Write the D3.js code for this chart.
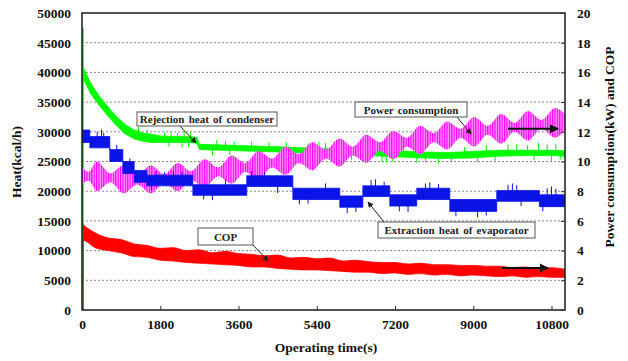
<!DOCTYPE html>
<html>
<head>
<meta charset="utf-8">
<script src="https://cdnjs.cloudflare.com/ajax/libs/d3/7.8.5/d3.min.js"></script>
<style>
  body { margin: 0; background: #fff; }
  text { font-family: "Liberation Serif", "Times New Roman", serif; font-weight: bold; }
</style>
</head>
<body>
<svg id="chart" width="628" height="361"></svg>
<script>
// ---- data ----
const xTicks = [0, 1800, 3600, 5400, 7200, 9000, 10800];
const heatTicks = [0, 5000, 10000, 15000, 20000, 25000, 30000, 35000, 40000, 45000, 50000];
const rightTicks = [0, 2, 4, 6, 8, 10, 12, 14, 16, 18, 20];

// Rejection heat of condenser (kcal/h), band edges
const greenT  = [0, 20, 200, 400, 600, 800, 1000, 1200, 1400, 1600, 1800, 2100, 2400, 2640, 2700, 3600, 4500, 4800, 5400, 6000, 6600, 7200, 7800, 8400, 9000, 9600, 10200, 10800, 11110];
const greenHi = [47500, 41000, 38200, 36000, 34200, 32500, 31200, 30300, 29800, 29600, 29300, 29200, 29200, 29100, 27900, 27700, 27500, 27400, 27200, 27100, 26900, 26800, 26600, 26500, 26700, 26900, 26900, 26900, 26800];
const greenLo = [0, 39000, 36400, 34400, 32600, 31000, 29600, 28800, 28400, 28200, 28200, 28200, 28200, 28100, 27000, 26800, 26600, 26500, 26300, 26100, 26000, 25800, 25600, 25500, 25600, 25900, 26000, 26000, 25900];
const greenSpikeT = [1300, 1500, 1900, 2000, 2050, 2200, 2300, 2350, 2450, 2500, 3000, 3100, 3300, 3400, 3500, 3900, 4100, 4300, 4700, 5200, 5450, 5600, 5800, 6000, 6200, 6500, 6900, 7000, 7150, 7400, 7700, 7900, 8200, 8500, 8800, 9100, 9300, 9500, 9800, 10000, 10250, 10400, 10500, 10700, 10800, 10900, 11000];
const greenSpikeV = [30800, 30400, 29900, 27500, 30000, 29800, 27300, 30100, 27400, 29900, 26000, 28600, 28500, 26100, 28400, 28300, 25900, 28200, 28200, 28000, 28300, 28100, 28400, 27900, 25300, 27900, 25000, 24800, 24900, 27600, 24800, 24900, 24700, 25000, 27400, 24900, 27800, 25100, 27900, 28000, 27800, 25200, 28100, 27900, 25100, 28000, 25300];

// Extraction heat of evaporator (kcal/h), stepped band
const blueT  = [0, 180, 640, 940, 1200, 1490, 2550, 3790, 4850, 5930, 6460, 7080, 7700, 8460, 9540, 10520, 11110];
const blueHi = [30300, 29200, 27000, 25000, 23500, 22700, 21100, 22600, 20500, 19200, 20900, 19400, 20500, 18600, 20100, 19400, 19400];
const blueLo = [28200, 27300, 25000, 23000, 21500, 20900, 19300, 20800, 18600, 17300, 19100, 17500, 18600, 16600, 18300, 17400, 17400];
const blueSpikeT = [350, 450, 500, 800, 1100, 1600, 1700, 1900, 2100, 2300, 2800, 3000, 3300, 3900, 4200, 4500, 5000, 5200, 5600, 6100, 6300, 6650, 6750, 6950, 7300, 7500, 7900, 8000, 8200, 8600, 9100, 9300, 9800, 9900, 10000, 10100, 10600, 10700, 10800, 10900];
const blueSpikeV = [30000, 30400, 29800, 27800, 25500, 20200, 23400, 23200, 23500, 23300, 18600, 18500, 22000, 23400, 23200, 19700, 17800, 17900, 21300, 16300, 16500, 21900, 22000, 21600, 16600, 16500, 21300, 21500, 21200, 15800, 15600, 15900, 21100, 21300, 21000, 17500, 16600, 20500, 20800, 20400];

// Power consumption (kW), beating envelope
const pinkT  = [0, 150, 340, 650, 960, 1270, 1580, 1890, 2200, 2510, 2820, 3130, 3440, 3750, 4060, 4370, 4680, 4990, 5300, 5610, 5920, 6230, 6540, 6850, 7160, 7470, 7780, 8090, 8400, 8710, 9020, 9330, 9640, 9950, 10260, 10570, 10880, 11110];
const pinkHi = [9.6, 9.3, 10.0, 9.2, 9.75, 9.05, 9.75, 9.15, 9.9, 9.35, 10.15, 9.6, 10.4, 9.9, 10.7, 10.2, 11.0, 10.5, 11.3, 10.8, 11.55, 11.0, 11.8, 11.3, 12.05, 11.6, 12.4, 11.9, 12.7, 12.2, 13.0, 12.4, 13.2, 12.6, 13.4, 12.8, 13.6, 13.2];
const pinkLo = [8.5, 8.7, 8.0, 8.6, 7.85, 8.45, 7.85, 8.55, 8.0, 8.75, 8.25, 9.0, 8.5, 9.3, 8.8, 9.6, 9.1, 9.9, 9.4, 10.2, 9.65, 10.4, 9.9, 10.7, 10.15, 11.0, 10.5, 11.3, 10.8, 11.6, 11.0, 11.8, 11.2, 12.0, 11.4, 12.2, 11.6, 12.1];

// COP, band edges
const redT  = [0, 20, 300, 600, 900, 1200, 1500, 1800, 2100, 2400, 2700, 3000, 3300, 3600, 3900, 4200, 4500, 4800, 5100, 5400, 5700, 6000, 6300, 6600, 6900, 7200, 7500, 7800, 8100, 8400, 8700, 9000, 9300, 9600, 9900, 10200, 10500, 10800, 11110];
const redHi = [5.8, 5.75, 5.2, 4.85, 4.75, 4.45, 4.35, 4.15, 4.2, 4.0, 4.05, 3.85, 3.95, 3.8, 3.75, 3.65, 3.7, 3.5, 3.55, 3.45, 3.5, 3.3, 3.35, 3.25, 3.2, 3.2, 3.1, 3.15, 3.05, 3.05, 3.0, 3.0, 2.95, 2.95, 2.85, 2.9, 2.8, 2.85, 2.75];
const redLo = [0, 4.7, 4.2, 4.0, 3.85, 3.6, 3.55, 3.35, 3.3, 3.2, 3.15, 3.1, 3.05, 3.0, 2.9, 2.9, 2.8, 2.75, 2.7, 2.7, 2.65, 2.6, 2.55, 2.55, 2.45, 2.5, 2.4, 2.45, 2.35, 2.4, 2.3, 2.35, 2.3, 2.25, 2.3, 2.2, 2.25, 2.2, 2.2];

// ---- layout ----
const plot = { left: 82, top: 13, right: 565, bottom: 310 };
const svg = d3.select('#chart');

const x = d3.scaleLinear().domain([0, 11110]).range([plot.left, plot.right]);
const yL = d3.scaleLinear().domain([0, 50000]).range([plot.bottom, plot.top]);
const yR = d3.scaleLinear().domain([0, 20]).range([plot.bottom, plot.top]);

const defs = svg.append('defs');
const hatch = defs.append('pattern').attr('id', 'pinkHatch')
  .attr('patternUnits', 'userSpaceOnUse').attr('width', 2.4).attr('height', 4);
hatch.append('rect').attr('width', 2.4).attr('height', 4).attr('fill', '#ff9cff');
hatch.append('rect').attr('width', 1.2).attr('height', 4).attr('fill', '#ff00ff');

defs.append('marker').attr('id', 'thinHead')
  .attr('viewBox', '0 0 8 8').attr('refX', 7).attr('refY', 4)
  .attr('markerWidth', 6).attr('markerHeight', 6).attr('orient', 'auto')
  .attr('markerUnits', 'userSpaceOnUse')
  .append('path').attr('d', 'M0,0L8,4L0,8z').attr('fill', '#222');
defs.append('marker').attr('id', 'boldHead')
  .attr('viewBox', '0 0 10 10').attr('refX', 9).attr('refY', 5)
  .attr('markerWidth', 10).attr('markerHeight', 9).attr('orient', 'auto')
  .attr('markerUnits', 'userSpaceOnUse')
  .append('path').attr('d', 'M0,0L10,5L0,10z').attr('fill', '#111');

// grid lines
svg.append('g').selectAll('line').data(heatTicks.slice(1, -1)).enter().append('line')
  .attr('x1', plot.left).attr('x2', plot.right)
  .attr('y1', d => yL(d)).attr('y2', d => yL(d))
  .attr('stroke', '#8a8a8a').attr('stroke-width', 1).attr('stroke-dasharray', '2,2');

// series
defs.append('clipPath').attr('id', 'plotClip').append('rect')
  .attr('x', plot.left).attr('y', plot.top)
  .attr('width', plot.right - plot.left).attr('height', plot.bottom - plot.top);
const marks = svg.append('g').attr('clip-path', 'url(#plotClip)');

function band(ts, hi, lo) {
  return ts.map((t, i) => ({ t, hi: hi[i], lo: lo[i] }));
}
function centerAt(ts, hi, lo, t, stepped) {
  let i = d3.bisectRight(ts, t) - 1;
  i = Math.max(0, Math.min(ts.length - 1, i));
  if (stepped || i === ts.length - 1) return (hi[i] + lo[i]) / 2;
  const f = (t - ts[i]) / (ts[i + 1] - ts[i]);
  return ((hi[i] + lo[i]) / 2) * (1 - f) + ((hi[i + 1] + lo[i + 1]) / 2) * f;
}

// start-up jumps at t = 0 (drawn from the first band edges)
marks.append('line').attr('x1', x(0) + 1).attr('x2', x(0) + 1)
  .attr('y1', yL(greenLo[0])).attr('y2', yL(greenHi[0]))
  .attr('stroke', '#00dd00').attr('stroke-width', 1.3);

// COP (right axis)
marks.append('path').datum(band(redT, redHi, redLo))
  .attr('d', d3.area().x(d => x(d.t)).y0(d => yR(d.lo)).y1(d => yR(d.hi)).curve(d3.curveMonotoneX))
  .attr('fill', '#ff0000').attr('stroke', '#ff0000').attr('stroke-width', 0.8);
marks.append('line').attr('x1', x(0) + 1).attr('x2', x(0) + 1)
  .attr('y1', yR(redLo[0])).attr('y2', yR(redHi[0]))
  .attr('stroke', '#ff0000').attr('stroke-width', 1.3);

// condenser (left axis)
marks.append('path').datum(band(greenT, greenHi, greenLo))
  .attr('d', d3.area().x(d => x(d.t)).y0(d => yL(d.lo)).y1(d => yL(d.hi)))
  .attr('fill', '#00ff00').attr('stroke', '#00ff00').attr('stroke-width', 0.8);
marks.append('g').selectAll('line').data(greenSpikeT).enter().append('line')
  .attr('x1', d => x(d)).attr('x2', d => x(d))
  .attr('y1', d => yL(centerAt(greenT, greenHi, greenLo, d, false)))
  .attr('y2', (d, i) => yL(greenSpikeV[i]))
  .attr('stroke', '#00ee00').attr('stroke-width', 1);

// power consumption (right axis)
marks.append('path').datum(band(pinkT, pinkHi, pinkLo))
  .attr('d', d3.area().x(d => x(d.t)).y0(d => yR(d.lo)).y1(d => yR(d.hi)).curve(d3.curveMonotoneX))
  .attr('fill', 'url(#pinkHatch)');

// evaporator (left axis)
marks.append('path').datum(band(blueT, blueHi, blueLo))
  .attr('d', d3.area().x(d => x(d.t)).y0(d => yL(d.lo)).y1(d => yL(d.hi)).curve(d3.curveStepAfter))
  .attr('fill', '#0a14e6').attr('stroke', '#0a14e6').attr('stroke-width', 0.8);
marks.append('g').selectAll('line').data(blueSpikeT).enter().append('line')
  .attr('x1', d => x(d)).attr('x2', d => x(d))
  .attr('y1', d => yL(centerAt(blueT, blueHi, blueLo, d, true)))
  .attr('y2', (d, i) => yL(blueSpikeV[i]))
  .attr('stroke', '#0a14e6').attr('stroke-width', 1);

// frame
svg.append('rect').attr('x', plot.left).attr('y', plot.top)
  .attr('width', plot.right - plot.left).attr('height', plot.bottom - plot.top)
  .attr('fill', 'none').attr('stroke', '#1a1a1a').attr('stroke-width', 1.5);

// axes
function styleAxis(g) {
  g.select('.domain').remove();
  g.selectAll('.tick line').attr('stroke', '#333');
  g.selectAll('.tick text').attr('fill', '#111').style('font-size', '13.5px')
    .style('font-family', '"Liberation Serif", serif').style('font-weight', 'bold');
}
svg.append('g').attr('transform', `translate(0,${plot.bottom})`)
  .call(d3.axisBottom(x).tickValues(xTicks).tickFormat(d3.format('d')).tickSizeInner(-4).tickSizeOuter(0).tickPadding(9))
  .call(styleAxis);
svg.append('g').attr('transform', `translate(${plot.left},0)`)
  .call(d3.axisLeft(yL).tickValues(heatTicks).tickFormat(d3.format('d')).tickSizeInner(0).tickSizeOuter(0).tickPadding(11))
  .call(styleAxis);
svg.append('g').attr('transform', `translate(${plot.right},0)`)
  .call(d3.axisRight(yR).tickValues(rightTicks).tickFormat(d3.format('d')).tickSizeInner(-4).tickSizeOuter(0).tickPadding(12))
  .call(styleAxis);

// axis titles
svg.append('text').attr('transform', 'translate(21,162) rotate(-90)')
  .attr('text-anchor', 'middle').style('font-size', '13.5px').attr('fill', '#111')
  .text('Heat(kcal/h)');
svg.append('text').attr('transform', 'translate(614,147) rotate(-90)')
  .attr('text-anchor', 'middle').style('font-size', '13.5px').attr('fill', '#111')
  .text('Power consumption(kW) and COP');
svg.append('text').attr('x', 326).attr('y', 352)
  .attr('text-anchor', 'middle').style('font-size', '13.5px').attr('fill', '#111')
  .text('Operating time(s)');

// annotation boxes
const notes = [
  { label: 'Rejection heat of condenser', bx: 137, by: 112, bw: 140, bh: 14, ax1: 180, ay1: 126, ax2: 196, ay2: 143 },
  { label: 'Power consumption', bx: 355, by: 102, bw: 112, bh: 15, ax1: 457, ay1: 117, ax2: 471, ay2: 134 },
  { label: 'Extraction heat of evaporator', bx: 378, by: 222, bw: 157, bh: 16, ax1: 384, ay1: 222, ax2: 368, ay2: 202 },
  { label: 'COP', bx: 198, by: 228, bw: 55, bh: 17, ax1: 253, ay1: 245, ax2: 268, ay2: 261 }
];
const ng = svg.append('g');
notes.forEach(n => {
  ng.append('line').attr('x1', n.ax1).attr('y1', n.ay1).attr('x2', n.ax2).attr('y2', n.ay2)
    .attr('stroke', '#222').attr('stroke-width', 1).attr('marker-end', 'url(#thinHead)');
  ng.append('rect').attr('x', n.bx).attr('y', n.by).attr('width', n.bw).attr('height', n.bh)
    .attr('fill', '#fff').attr('stroke', '#555').attr('stroke-width', 1);
  ng.append('text').attr('x', n.bx + n.bw / 2).attr('y', n.by + n.bh / 2 + 4)
    .attr('text-anchor', 'middle').style('font-size', '11px').style('word-spacing', '1.5px')
    .attr('fill', '#222').text(n.label);
});

// axis-direction arrows
svg.append('line').attr('x1', x(9800)).attr('x2', x(10950)).attr('y1', yR(12.2)).attr('y2', yR(12.2))
  .attr('stroke', '#111').attr('stroke-width', 2).attr('marker-end', 'url(#boldHead)');
svg.append('line').attr('x1', x(9660)).attr('x2', x(10720)).attr('y1', yR(2.83)).attr('y2', yR(2.83))
  .attr('stroke', '#111').attr('stroke-width', 2).attr('marker-end', 'url(#boldHead)');
</script>
</body>
</html>
